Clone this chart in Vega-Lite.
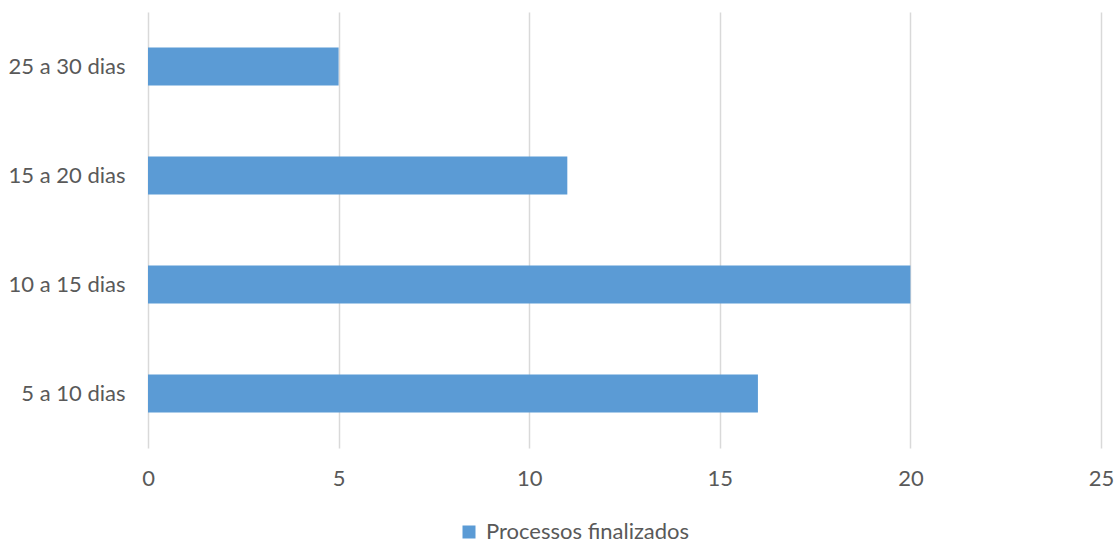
{
  "$schema": "https://vega.github.io/schema/vega-lite/v6.json",
  "autosize": {"type": "none"},
  "padding": {"left": 148, "top": 12, "right": 18, "bottom": 97},
  "width": 953,
  "height": 436,
  "background": "white",
  "config": {
    "view": {"stroke": null},
    "font": "Lato",
    "axis": {"labelFont": "Lato", "labelColor": "#595959", "labelFontSize": 22},
    "legend": {"labelFont": "Lato", "labelColor": "#595959", "labelFontSize": 22}
  },
  "data": {
    "values": [
      {"faixa": "25 a 30 dias", "valor": 5, "serie": "Processos finalizados"},
      {"faixa": "15 a 20 dias", "valor": 11, "serie": "Processos finalizados"},
      {"faixa": "10 a 15 dias", "valor": 20, "serie": "Processos finalizados"},
      {"faixa": "5 a 10 dias", "valor": 16, "serie": "Processos finalizados"}
    ]
  },
  "mark": {"type": "bar"},
  "encoding": {
    "y": {
      "field": "faixa",
      "type": "nominal",
      "sort": ["25 a 30 dias", "15 a 20 dias", "10 a 15 dias", "5 a 10 dias"],
      "scale": {"paddingInner": 0.65, "paddingOuter": 0.325},
      "axis": {"title": null, "domain": false, "ticks": false, "grid": false, "labelPadding": 23, "labelFontSize": 22}
    },
    "x": {
      "field": "valor",
      "type": "quantitative",
      "scale": {"domain": [0, 25], "nice": false},
      "axis": {"title": null, "domain": false, "ticks": false, "grid": true, "gridColor": "#d9d9d9", "gridWidth": 1.5, "values": [0, 5, 10, 15, 20, 25], "labelPadding": 20, "labelFlush": false, "labelFontSize": 22}
    },
    "color": {
      "field": "serie",
      "type": "nominal",
      "scale": {"range": ["#5b9bd5"]},
      "legend": {"title": null, "orient": "none", "legendX": 310, "legendY": 509, "symbolType": "square", "symbolSize": 169, "symbolStrokeWidth": 0, "labelOffset": 6, "labelFontSize": 22, "labelLimit": 0, "direction": "horizontal"}
    }
  }
}
